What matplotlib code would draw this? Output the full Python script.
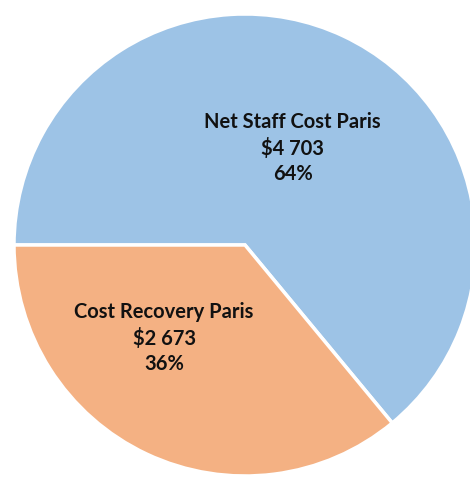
import matplotlib.pyplot as plt

# data
labels = ['Net Staff Cost Paris', 'Cost Recovery Paris']
amounts = [4703, 2673]
percents = [64, 36]
colors = ['#9DC3E6', '#F4B183']
text_pos = [(0.603, 0.710), (0.325, 0.299)]

fig = plt.figure(figsize=(4.70, 4.79), dpi=100)
ax = fig.add_axes([14 / 470, 3 / 479, 462 / 470, 462 / 479])

wedges, _ = ax.pie(percents, colors=colors, startangle=-50.4, counterclock=True,
                   radius=1, wedgeprops=dict(edgecolor='white', linewidth=2.5))
for w in wedges:
    w.set_clip_on(False)
ax.set_xlim(-1, 1)
ax.set_ylim(-1, 1)
ax.set_aspect('equal')
ax.axis('off')

for lab, amt, pct, (x, y) in zip(labels, amounts, percents, text_pos):
    amt_txt = '${:,}'.format(amt).replace(',', ' ')
    ax.text(x, y, '{}\n{}\n{}%'.format(lab, amt_txt, pct), transform=ax.transAxes,
            ha='center', va='center', fontsize=14.5, fontweight='bold',
            family='Lato', color='#111111', linespacing=1.35)

plt.savefig('out.png', dpi=100)
